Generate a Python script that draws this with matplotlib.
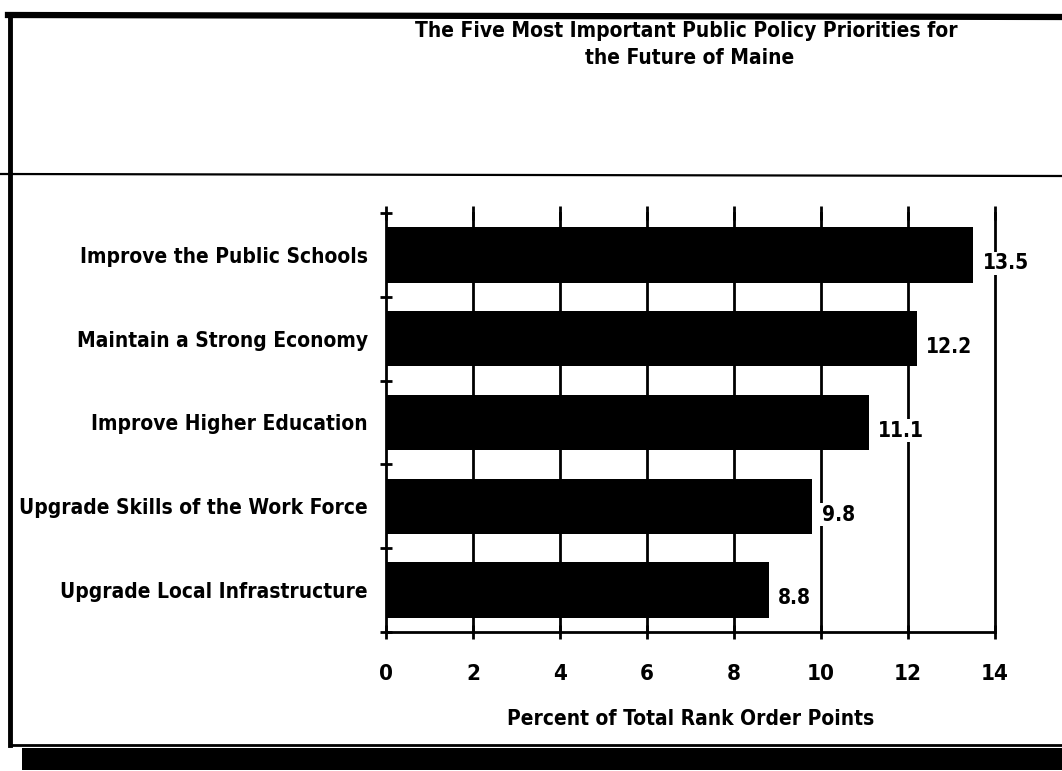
import numpy as np
import matplotlib.pyplot as plt
from matplotlib.patches import Rectangle
from matplotlib.lines import Line2D

categories = ["Improve the Public Schools", "Maintain a Strong Economy",
              "Improve Higher Education", "Upgrade Skills of the Work Force",
              "Upgrade Local Infrastructure"]
values = [13.5, 12.2, 11.1, 9.8, 8.8]
value_labels = ["13.5", "12.2", "11.1", "9.8", "8.8"]
xticks = [0, 2, 4, 6, 8, 10, 12, 14]

plt.rcParams['font.family'] = ['DejaVu Sans']
plt.rcParams['font.stretch'] = 'condensed'
plt.rcParams['font.weight'] = 'bold'

W, H = 1062, 771
fig = plt.figure(figsize=(W / 100, H / 100), dpi=100)

def px(x, y):
    return x / W, 1 - y / H

# frame, shadow and separator line
fig.add_artist(Line2D([10 / W, 10 / W], [1 - 15 / H, 1 - 745 / H], color='black', lw=3.5))
fig.add_artist(Line2D([8 / W, 1], [1 - 15 / H, 1 - 17 / H], color='black', lw=4.5))
fig.add_artist(Line2D([10 / W, 1], [1 - 745 / H, 1 - 745 / H], color='black', lw=2))
fig.add_artist(Rectangle(px(22, 770), 1 - 22 / W, 22 / H, transform=fig.transFigure,
                         color='black', lw=0))
fig.add_artist(Line2D([0, 1], [1 - 174 / H, 1 - 176 / H], color='black', lw=1.6))

fig.text(686 / W, 1 - 31 / H, "The Five Most Important Public Policy Priorities for",
         ha='center', va='center', fontsize=15, fontweight='bold')
fig.text(690 / W, 1 - 58 / H, "the Future of Maine",
         ha='center', va='center', fontsize=15, fontweight='bold')

ax = fig.add_axes([386 / W, 1 - 632 / H, (995 - 386) / W, (632 - 213) / H])
y = np.arange(len(categories))
ax.barh(y, values, height=0.66, color='black', zorder=3)

ax.set_xlim(0, 14)
ax.set_ylim(len(categories) - 0.5, -0.5)
ax.set_xticks(xticks)
ax.set_xticklabels([str(t) for t in xticks], fontsize=16, fontweight='bold')
ax.tick_params(axis='x', which='major', direction='inout', length=10, width=2,
               pad=18, top=True, bottom=True)
ax.set_yticks(y)
ax.set_yticklabels(categories, fontsize=15, fontweight='bold')
ax.tick_params(axis='y', which='major', length=0, pad=13)
ax.set_yticks(np.arange(-0.5, len(categories)), minor=True)
ax.tick_params(axis='y', which='minor', direction='inout', length=9, width=2)

for spine in ['top', 'right']:
    ax.spines[spine].set_visible(False)
for spine in ['left', 'bottom']:
    ax.spines[spine].set_linewidth(2)

for t in xticks[1:]:
    ax.axvline(t, color='black', lw=2, zorder=1, clip_on=False)

for yi, v, lab in zip(y, values, value_labels):
    ax.text(v + 0.22, yi + 0.1, lab, va='center', ha='left', fontsize=15,
            fontweight='bold', zorder=4,
            bbox=dict(facecolor='white', edgecolor='none', pad=1))

ax.set_xlabel("Percent of Total Rank Order Points", fontsize=15, fontweight='bold',
              labelpad=18)

fig.savefig("out.png", dpi=100)
